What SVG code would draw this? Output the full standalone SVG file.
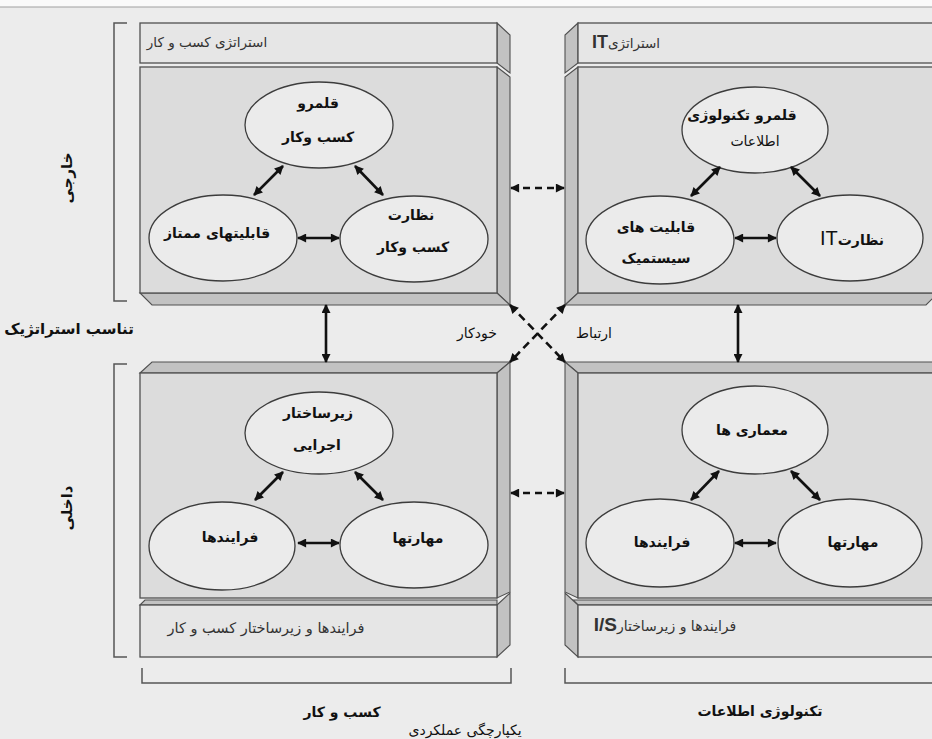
<svg xmlns="http://www.w3.org/2000/svg" width="932" height="739" viewBox="0 0 932 739">
<style>
.bg{fill:#ececec}
.front{fill:#dcdcdc;stroke:#505050;stroke-width:1.3}
.strip{fill:#e6e6e6;stroke:#505050;stroke-width:1.3}
.side{fill:#c2c2c2;stroke:#505050;stroke-width:1.1}
.node{fill:#ebebeb;stroke:#3c3c3c;stroke-width:1.3}
.t{font-family:"DejaVu Sans",sans-serif;font-size:14px;font-weight:bold;fill:#111;text-anchor:middle;direction:rtl}
.hdr{font-family:"DejaVu Sans",sans-serif;font-size:13.5px;fill:#333;text-anchor:middle;direction:rtl}
.lbl{font-family:"DejaVu Sans",sans-serif;font-size:14px;fill:#111;text-anchor:middle;direction:rtl}
.latin{font-family:"Liberation Sans",sans-serif;font-weight:bold;font-size:18px}
.brk{fill:none;stroke:#555;stroke-width:1.5}
.arr{stroke:#111;stroke-width:2.6;fill:none;marker-start:url(#ah);marker-end:url(#ah)}
.dash{stroke:#111;stroke-width:2.6;fill:none;stroke-dasharray:7 5;marker-start:url(#ah);marker-end:url(#ah)}
</style>
<defs>
<marker id="ah" viewBox="0 0 10 10" refX="9" refY="5" markerUnits="userSpaceOnUse" markerWidth="10" markerHeight="9" orient="auto-start-reverse">
<path d="M0,0 L10,5 L0,10 z" fill="#111"/>
</marker>
</defs>
<rect x="0" y="0" width="932" height="739" fill="#fafafa"/>
<rect class="bg" x="0" y="7" width="932" height="732"/>
<line x1="0" y1="7" x2="932" y2="7" stroke="#a0a0a0" stroke-width="1.2"/>

<!-- Top-left block: business strategy -->
<g id="block-business-strategy">
<polygon class="side" points="497,23 510,35 510,73 497,63"/>
<rect class="strip" x="140" y="23" width="357" height="40"/>
<text class="hdr" x="207" y="47">استراتژی کسب و کار</text>
<polygon class="side" points="497,67 510,77 510,305 497,293"/>
<polygon class="side" points="140,293 497,293 510,305 152,305"/>
<rect class="front" x="140" y="67" width="357" height="226"/>
</g>

<!-- Top-right block: IT strategy -->
<g id="block-it-strategy">
<polygon class="side" points="578,23 565,35 565,73 578,63"/>
<rect class="strip" x="578" y="23" width="360" height="40"/>
<text class="hdr" x="626" y="48">استراتژی<tspan class="latin">IT</tspan></text>
<polygon class="side" points="578,67 565,77 565,305 578,293"/>
<polygon class="side" points="578,293 938,293 926,305 565,305"/>
<rect class="front" x="578" y="67" width="360" height="226"/>
</g>

<!-- Bottom-left block: business processes -->
<g id="block-business-infrastructure">
<polygon class="side" points="140,373 152,362 510,362 497,373"/>
<polygon class="side" points="497,373 510,362 510,592 497,598"/>
<rect class="front" x="140" y="373" width="357" height="225"/>
<polygon class="side" points="140,605 145,600 497,600 497,605"/>
<polygon class="side" points="497,605 510,593 510,645 497,657"/>
<rect class="strip" x="140" y="605" width="357" height="52"/>
<text class="hdr" x="266" y="633" style="font-size:14.5px">فرایندها و زیرساختار کسب و کار</text>
</g>

<!-- Bottom-right block: IS processes -->
<g id="block-is-infrastructure">
<polygon class="side" points="565,362 938,362 938,373 578,373"/>
<polygon class="side" points="578,373 565,362 565,592 578,598"/>
<rect class="front" x="578" y="373" width="360" height="225"/>
<polygon class="side" points="578,605 573,600 938,600 938,605"/>
<polygon class="side" points="578,605 565,593 565,645 578,657"/>
<rect class="strip" x="578" y="605" width="360" height="52"/>
<text class="hdr" x="665" y="631" style="font-size:14px">فرایندها و زیرساختار<tspan class="latin" style="font-size:19px">I/S</tspan></text>
</g>

<!-- nodes: top-left -->
<g id="node-business-scope">
<ellipse class="node" cx="319" cy="125" rx="74" ry="43"/>
<text class="t" x="318" y="108">قلمرو</text>
<text class="t" x="318" y="142">کسب وکار</text>
</g>
<g id="node-distinctive-competencies">
<ellipse class="node" cx="223" cy="238" rx="74" ry="43"/>
<text class="t" x="217" y="238">قابلیتهای ممتاز</text>
</g>
<g id="node-business-governance">
<ellipse class="node" cx="414" cy="239" rx="74" ry="43"/>
<text class="t" x="411" y="220">نظارت</text>
<text class="t" x="413" y="252">کسب وکار</text>
</g>

<!-- nodes: top-right -->
<g id="node-technology-scope">
<ellipse class="node" cx="755" cy="130" rx="73" ry="43"/>
<text class="t" x="742" y="120">قلمرو تکنولوژی</text>
<text class="t" x="755" y="146" style="font-weight:normal">اطلاعات</text>
</g>
<g id="node-systemic-competencies">
<ellipse class="node" cx="660" cy="240" rx="74" ry="44"/>
<text class="t" x="656" y="232">قابلیت های</text>
<text class="t" x="656" y="263">سیستمیک</text>
</g>
<g id="node-it-governance">
<ellipse class="node" cx="850" cy="238" rx="73" ry="43"/>
<text class="t" x="852" y="245">نظارت<tspan class="latin" style="font-weight:normal;font-size:20px">IT</tspan></text>
</g>

<!-- nodes: bottom-left -->
<g id="node-admin-infrastructure">
<ellipse class="node" cx="319" cy="433" rx="74" ry="41"/>
<text class="t" x="318" y="418">زیرساختار</text>
<text class="t" x="317" y="450">اجرایی</text>
</g>
<g id="node-business-processes">
<ellipse class="node" cx="222" cy="546" rx="73" ry="44"/>
<text class="t" x="230" y="542">فرایندها</text>
</g>
<g id="node-business-skills">
<ellipse class="node" cx="414" cy="545" rx="74" ry="43"/>
<text class="t" x="418" y="543">مهارتها</text>
</g>

<!-- nodes: bottom-right -->
<g id="node-architectures">
<ellipse class="node" cx="755" cy="430" rx="73" ry="44"/>
<text class="t" x="752" y="435">معماری ها</text>
</g>
<g id="node-is-processes">
<ellipse class="node" cx="660" cy="543" rx="74" ry="44"/>
<text class="t" x="662" y="547">فرایندها</text>
</g>
<g id="node-is-skills">
<ellipse class="node" cx="850" cy="543" rx="72" ry="44"/>
<text class="t" x="853" y="547">مهارتها</text>
</g>

<!-- connectors -->
<g id="connectors">
<line class="arr" x1="283" y1="166" x2="254" y2="195"/>
<line class="arr" x1="355" y1="166" x2="383" y2="195"/>
<line class="arr" x1="298" y1="238" x2="339" y2="238"/>
<line class="arr" x1="720" y1="167" x2="691" y2="196"/>
<line class="arr" x1="791" y1="167" x2="820" y2="196"/>
<line class="arr" x1="735" y1="238" x2="776" y2="238"/>
<line class="arr" x1="283" y1="472" x2="255" y2="500"/>
<line class="arr" x1="355" y1="472" x2="383" y2="500"/>
<line class="arr" x1="298" y1="543" x2="339" y2="543"/>
<line class="arr" x1="719" y1="471" x2="691" y2="500"/>
<line class="arr" x1="791" y1="471" x2="820" y2="500"/>
<line class="arr" x1="735" y1="543" x2="776" y2="543"/>
<line class="arr" x1="326" y1="305" x2="326" y2="362"/>
<line class="arr" x1="738" y1="305" x2="738" y2="362"/>
<line class="dash" x1="511" y1="188" x2="564" y2="188"/>
<line class="dash" x1="511" y1="493" x2="564" y2="493"/>
<line class="dash" x1="510" y1="305" x2="565" y2="362" style="stroke-dasharray:8 5"/>
<line class="dash" x1="565" y1="305" x2="510" y2="362" style="stroke-dasharray:8 5"/>
<text class="lbl" x="477" y="338">خودکار</text>
<text class="lbl" x="594" y="338">ارتباط</text>
</g>

<!-- brackets and axis labels -->
<g id="axes">
<polyline class="brk" points="127,23 114,23 114,301 127,301"/>
<polyline class="brk" points="127,364 114,364 114,657 127,657"/>
<polyline class="brk" points="142,668 142,683 511,683 511,668"/>
<polyline class="brk" points="565,668 565,683 940,683"/>
<text class="t" style="font-size:15px" transform="translate(72,178) rotate(-90)">خارجی</text>
<text class="t" style="font-size:15px" transform="translate(72,508) rotate(-90)">داخلی</text>
<text class="t" x="69" y="334" style="font-size:15px">تناسب استراتژیک</text>
<text class="t" x="342" y="717">کسب و کار</text>
<text class="t" x="760" y="716">تکنولوژی اطلاعات</text>
<text class="lbl" x="465" y="735">یکپارچگی  عملکردی</text>
</g>
</svg>
